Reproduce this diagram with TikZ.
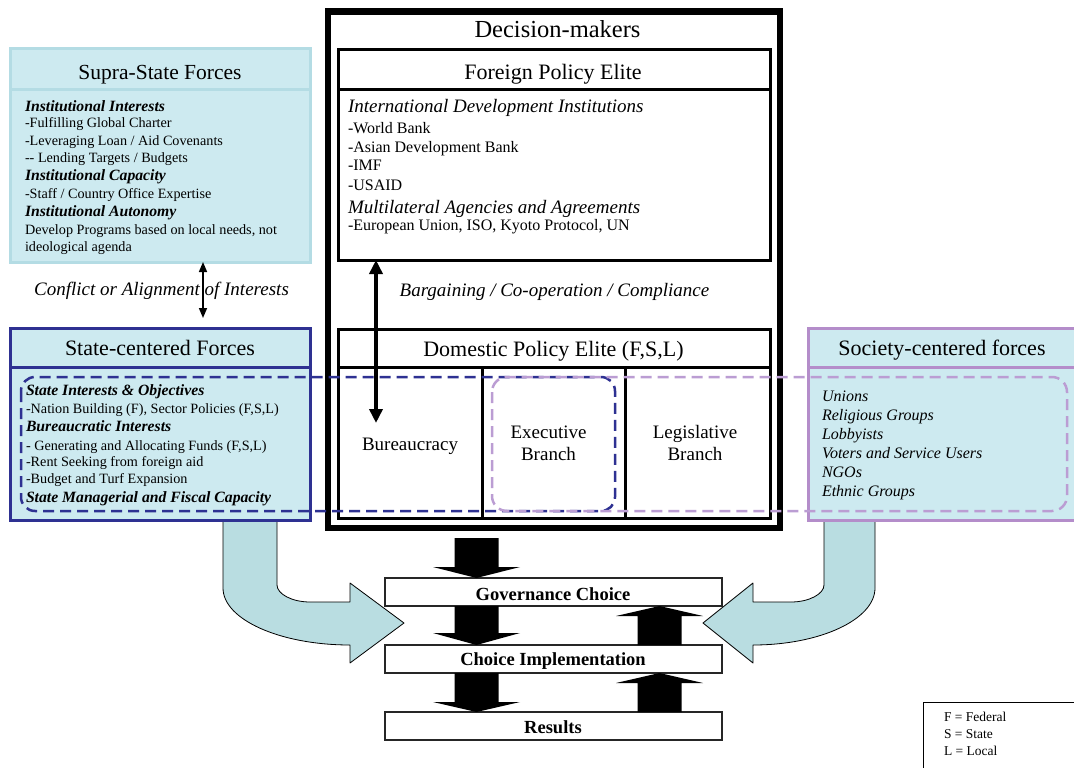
\documentclass[tikz,border=0pt]{standalone}
\usepackage{fontspec}
\setmainfont{Liberation Serif}
\usetikzlibrary{arrows.meta}
\definecolor{boxcyan}{HTML}{CDEAF0}
\definecolor{supraline}{HTML}{B4DCE4}
\definecolor{arrowcyan}{HTML}{B9DDE1}
\definecolor{navyblue}{HTML}{2E3192}
\definecolor{lilac}{HTML}{B48DCA}
\definecolor{lilacdash}{HTML}{BB9DD3}
\newcommand{\fsz}[1]{\fontsize{#1}{#1}\selectfont}
\newcommand{\blockarrow}[4]{%
  \fill[black] (#1-22,#2) -- (#1+22,#2) -- (#1+22,#3) -- (#1+43.5,#3) -- (#1,#4) -- (#1-43.5,#3) -- (#1-22,#3) -- cycle;}
\tikzset{
  panel/.style={rectangle, inner sep=0pt, outer sep=0pt, anchor=north west, line width=3pt},
  txt/.style={anchor=base west, inner sep=0pt, outer sep=0pt},
  ctxt/.style={anchor=base, inner sep=0pt, outer sep=0pt, align=center},
  hd/.style={txt, font=\fsz{15.7}\bfseries\itshape},
  sbody/.style={txt, font=\fsz{14.2}},
  fbody/.style={txt, font=\fsz{16}},
  fhead/.style={txt, font=\fsz{19}\itshape},
  socbody/.style={txt, font=\fsz{16}\itshape},
  title/.style={ctxt, font=\fsz{22}},
  stepbox/.style={panel, draw=black!85, line width=1.3pt, fill=white, minimum width=337pt, minimum height=28pt},
  steptext/.style={ctxt, font=\fsz{18.5}\bfseries},
  bendarrow/.style={fill=arrowcyan, draw=black, line width=0.8pt, line join=round},
  bluedash/.style={draw=navyblue, line width=2.5pt, dash pattern=on 11pt off 6pt},
  lilacdashed/.style={draw=lilacdash, line width=2.5pt, dash pattern=on 11pt off 6pt},
}
\begin{document}
\begin{tikzpicture}[x=1pt,y=-1pt]
\useasboundingbox (0,0) rectangle (1074,768);
\clip (0,0) rectangle (1074,768);
\fill[white] (0,0) rectangle (1074,768);

% bent arrows
\draw[bendarrow] (223,520) -- (277,520) -- (277,585) .. controls (277,594) and (292,602) .. (310,602) -- (350,602) -- (350,583) -- (404,623) -- (350,663) -- (350,645) .. controls (280,645) and (223,619.5) .. (223,588) -- cycle;
\draw[bendarrow] (824,520) -- (875,520) -- (875,588) .. controls (875,619.5) and (820,645) .. (753,645) -- (753,663) -- (703,623) -- (753,583) -- (753,602) -- (791,602) .. controls (809,602) and (824,594) .. (824,585) -- cycle;

% supra-state
\node[panel, draw=supraline, fill=boxcyan, minimum width=300pt, minimum height=213pt] (supra) at (10,49) {};
\draw[supraline, line width=3pt] (10,90) -- (310,90);
\node[ctxt, font=\fsz{21.5}] (tsupra) at (160,79.3) {Supra-State Forces};
\node[hd] (s1) at (25,111) {Institutional Interests};
\node[sbody] (s2) at (25,128) {-Fulfilling Global Charter};
\node[sbody] (s3) at (25,145) {-Leveraging Loan / Aid Covenants};
\node[sbody] (s4) at (25,162.5) {-{}- Lending Targets / Budgets};
\node[hd] (s5) at (25,180) {Institutional Capacity};
\node[sbody] (s6) at (25,198) {-Staff / Country Office Expertise};
\node[hd] (s7) at (25,216) {Institutional Autonomy};
\node[sbody] (s8) at (25,234) {Develop Programs based on local needs, not};
\node[sbody] (s9) at (25,251.5) {ideological agenda};

% state-centered
\node[panel, draw=navyblue, fill=boxcyan, minimum width=300pt, minimum height=192pt] (scf) at (10,328) {};
\draw[navyblue, line width=3pt] (10,367) -- (310,367);
\node[title] (tscf) at (160,355) {State-centered Forces};
\node[hd] (c1) at (26,395.7) {State Interests \& Objectives};
\node[sbody] (c2) at (26,413) {-Nation Building (F), Sector Policies (F,S,L)};
\node[hd] (c3) at (26,431.7) {Bureaucratic Interests};
\node[sbody] (c4) at (26,450) {- Generating and Allocating Funds (F,S,L)};
\node[sbody] (c5) at (26,466.7) {-Rent Seeking from foreign aid};
\node[sbody] (c6) at (26,483) {-Budget and Turf Expansion};
\node[hd] (c7) at (26,502.7) {State Managerial and Fiscal Capacity};

% society-centered
\node[panel, draw=lilac, fill=boxcyan, minimum width=270pt, minimum height=192pt] (socf) at (808,328) {};
\draw[lilac, line width=3pt] (808,367) -- (1078,367);
\node[title] (tsoc) at (942,355) {Society-centered forces};
\node[socbody] (o1) at (822,401) {Unions};
\node[socbody] (o2) at (822,420) {Religious Groups};
\node[socbody] (o3) at (822,439.3) {Lobbyists};
\node[socbody] (o4) at (822,458.3) {Voters and Service Users};
\node[socbody] (o5) at (822,477.3) {NGOs};
\node[socbody] (o6) at (822,496.7) {Ethnic Groups};

% decision makers
\node[panel, draw=black, fill=white, line width=6.5pt, minimum width=452pt, minimum height=516.5pt] (dm) at (328,11.5) {};
\node[ctxt, font=\fsz{24.5}] (tdm) at (557.5,37.7) {Decision-makers};
\node[panel, draw=black, minimum width=432pt, minimum height=210pt] (fpe) at (338,50) {};
\draw[line width=3pt] (338,90) -- (770,90);
\node[title] (tfpe) at (553,80) {Foreign Policy Elite};
\node[fhead] (f1) at (348,113) {International Development Institutions};
\node[fbody] (f2) at (348,133.3) {-World Bank};
\node[fbody] (f3) at (348,152.7) {-Asian Development Bank};
\node[fbody] (f4) at (348,170.7) {-IMF};
\node[fbody] (f5) at (348,190) {-USAID};
\node[fhead] (f6) at (348,213.3) {Multilateral Agencies and Agreements};
\node[fbody] (f7) at (348,230) {-European Union, ISO, Kyoto Protocol, UN};
\node[ctxt, font=\fsz{19}\itshape] (bargain) at (554.5,296) {Bargaining / Co-operation / Compliance};

\node[panel, draw=black, minimum width=432pt, minimum height=189pt] (dpe) at (338,329) {};
\draw[line width=3pt] (338,367) -- (770,367);
\draw[line width=3pt] (482,367) -- (482,518);
\draw[line width=3pt] (625,367) -- (625,518);
\node[title] (tdpe) at (553.5,356) {Domestic Policy Elite (F,S,L)};
\node[ctxt, font=\fsz{19}] (bur) at (410,450) {Bureaucracy};
\node[ctxt, font=\fontsize{19}{22.7}\selectfont] (exe) at (548.5,460.7) {Executive\\Branch};
\node[ctxt, font=\fontsize{19}{22.7}\selectfont] (leg) at (695,460.7) {Legislative\\Branch};

% arrows
\coordinate (cx) at (203,0);
\coordinate (cend) at (203,318);
\draw[line width=1.5pt, {Triangle[length=10pt,width=8pt]}-{Triangle[length=10pt,width=8pt]}] (supra.south -| cx) -- (cend);
\node[ctxt, font=\fsz{19}\itshape] (conf) at (161.5,295) {Conflict or Alignment of Interests};

\coordinate (bx) at (376,0);
\coordinate (bend) at (376,423);
\draw[line width=3.5pt, {Triangle[length=14pt,width=13pt]}-{Triangle[length=14pt,width=13pt]}] (fpe.south -| bx) -- (bend);

% dashed groupings
\draw[bluedash, rounded corners=14pt] (21,377) rectangle (615,511);
\draw[lilacdashed, rounded corners=15pt] (492,377) rectangle (1067,511);

% bottom chain
\node[stepbox] (gov) at (385,578) {};
\node[stepbox] (choice) at (385,645) {};
\node[stepbox] (res) at (385,712) {};
\node[steptext] (tgov) at (553,600) {Governance Choice};
\node[steptext] (tchoice) at (553,665) {Choice Implementation};
\node[steptext] (tres) at (553,733) {Results};
\blockarrow{476.5}{538}{567}{578}
\blockarrow{476.5}{606}{633}{645}
\blockarrow{476.5}{673}{702}{712}
\blockarrow{659.5}{645}{616}{606}
\blockarrow{659.5}{712}{683}{673}

% legend
\node[panel, draw=black, line width=1pt, minimum width=170pt, minimum height=90pt] (legend) at (923,702) {};
\node[txt, font=\fsz{13.5}] (l1) at (944,721.7) {F = Federal};
\node[txt, font=\fsz{13.5}] (l2) at (944,738.3) {S = State};
\node[txt, font=\fsz{13.5}] (l3) at (944,755) {L = Local};
\end{tikzpicture}
\end{document}
